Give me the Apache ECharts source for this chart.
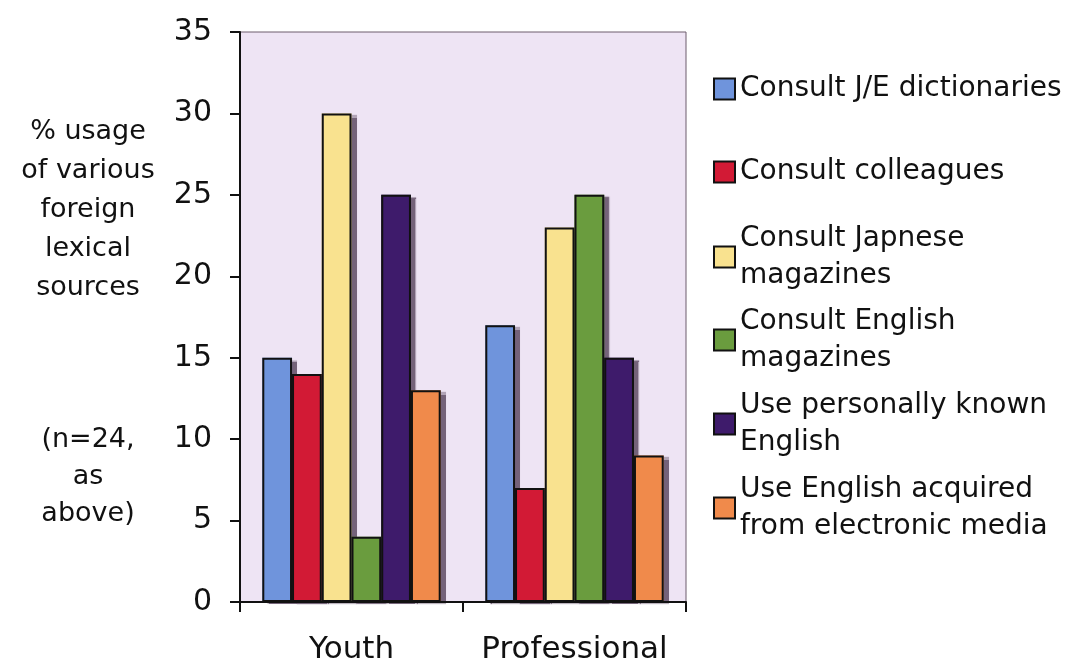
<!DOCTYPE html>
<html>
<head>
<meta charset="utf-8">
<script src="https://cdn.jsdelivr.net/npm/echarts@6/dist/echarts.min.js"></script>
<style>
  html, body { margin: 0; padding: 0; background: #ffffff; }
  #chart { width: 1076px; height: 665px; }
</style>
</head>
<body>
<div id="chart"></div>
<script>
// Groups along the x axis
var categories = ['Youth', 'Professional'];

// Percentage usage of each source, per group
var jeDictionaries     = [15, 17];
var colleagues         = [14, 7];
var japaneseMagazines  = [30, 23];
var englishMagazines   = [4, 25];
var personalEnglish    = [25, 15];
var electronicMedia    = [13, 9];

// Series names as shown in the legend
var seriesNames = [
  'Consult J/E dictionaries',
  'Consult colleagues',
  'Consult Japnese\nmagazines',
  'Consult English\nmagazines',
  'Use personally known\nEnglish',
  'Use English acquired\nfrom electronic media'
];

// Value axis range
var yMin = 0, yMax = 35, yStep = 5;

var seriesValues = [jeDictionaries, colleagues, japaneseMagazines, englishMagazines, personalEnglish, electronicMedia];
var colors = ['#6f94dc', '#d21a35', '#f9e28f', '#6a9c3e', '#3e1b6b', '#f08a4b'];

var FONT = 'DejaVu Sans';
var LINE = 36.5;
// centre of the first text line of each legend entry
var legendLineY = [89, 172, 257, 340, 424, 508];

var legends = seriesNames.map(function (name, i) {
  var twoLine = name.indexOf('\n') >= 0;
  return {
    data: [name],
    left: 713,
    top: twoLine ? legendLineY[i] - LINE * 1.5 : legendLineY[i] - LINE / 2,
    padding: 0,
    orient: 'vertical',
    itemWidth: 21,
    itemHeight: 21,
    itemGap: 0,
    icon: 'rect',
    selectedMode: false,
    itemStyle: {
      borderColor: '#111',
      borderWidth: 2,
      shadowBlur: 0,
      shadowOffsetX: 0,
      shadowOffsetY: 0,
      shadowColor: 'rgba(0,0,0,0)'
    },
    textStyle: {
      fontFamily: FONT,
      fontSize: 28,
      color: '#111',
      lineHeight: LINE,
      padding: twoLine ? [LINE, 0, 0, 0] : 0
    }
  };
});

var BAR_GAP = '20%';

// Drop-shadow layer: same bars on a hidden twin axis, drawn underneath
var shadowSeries = seriesNames.map(function (name, i) {
  return {
    type: 'bar',
    xAxisIndex: 1,
    data: seriesValues[i],
    barGap: '0%',
    barCategoryGap: BAR_GAP,
    z: 1,
    silent: true,
    itemStyle: {
      color: colors[i],
      borderWidth: 0,
      shadowColor: 'rgba(85,65,90,0.8)',
      shadowBlur: 1,
      shadowOffsetX: 5,
      shadowOffsetY: 2
    }
  };
});

// Visible bars with black outlines
var mainSeries = seriesNames.map(function (name, i) {
  return {
    name: name,
    type: 'bar',
    xAxisIndex: 0,
    data: seriesValues[i],
    barGap: '0%',
    barCategoryGap: BAR_GAP,
    z: 2,
    itemStyle: {
      color: colors[i],
      borderColor: '#111',
      borderWidth: 2
    }
  };
});

var chart = echarts.init(document.getElementById('chart'), null, { renderer: 'canvas' });
chart.setOption({
  backgroundColor: '#ffffff',
  animation: false,
  textStyle: { fontFamily: FONT },
  grid: {
    left: 240,
    right: 390,
    top: 32,
    bottom: 63,
    show: true,
    backgroundColor: '#eee4f4',
    borderColor: '#6c5c6c',
    borderWidth: 1
  },
  legend: legends,
  xAxis: [
    {
      type: 'category',
      data: categories,
      z: 5,
      axisLine: { show: true, lineStyle: { color: '#111', width: 2 } },
      axisTick: { show: true, interval: 0, length: 10, lineStyle: { color: '#111', width: 2 } },
      axisLabel: { interval: 0, fontFamily: FONT, fontSize: 31, color: '#111', margin: 32 },
      splitLine: { show: false }
    },
    {
      type: 'category',
      data: categories,
      show: false
    }
  ],
  yAxis: {
    type: 'value',
    min: yMin,
    max: yMax,
    interval: yStep,
    z: 5,
    axisLine: { show: true, lineStyle: { color: '#111', width: 2 } },
    axisTick: { show: true, length: 10, lineStyle: { color: '#111', width: 2 } },
    axisLabel: { fontFamily: FONT, fontSize: 30, color: '#111', margin: 28 },
    splitLine: { show: false }
  },
  graphic: [
    {
      type: 'text',
      x: 88,
      y: 210,
      style: {
        text: '% usage\nof various\nforeign\nlexical\nsources',
        fontFamily: FONT,
        fontSize: 27,
        lineHeight: 39,
        fill: '#111',
        align: 'center',
        verticalAlign: 'middle'
      }
    },
    {
      type: 'text',
      x: 88,
      y: 477,
      style: {
        text: '(n=24,\nas\nabove)',
        fontFamily: FONT,
        fontSize: 27,
        lineHeight: 37,
        fill: '#111',
        align: 'center',
        verticalAlign: 'middle'
      }
    }
  ],
  series: shadowSeries.concat(mainSeries)
});
</script>
</body>
</html>
